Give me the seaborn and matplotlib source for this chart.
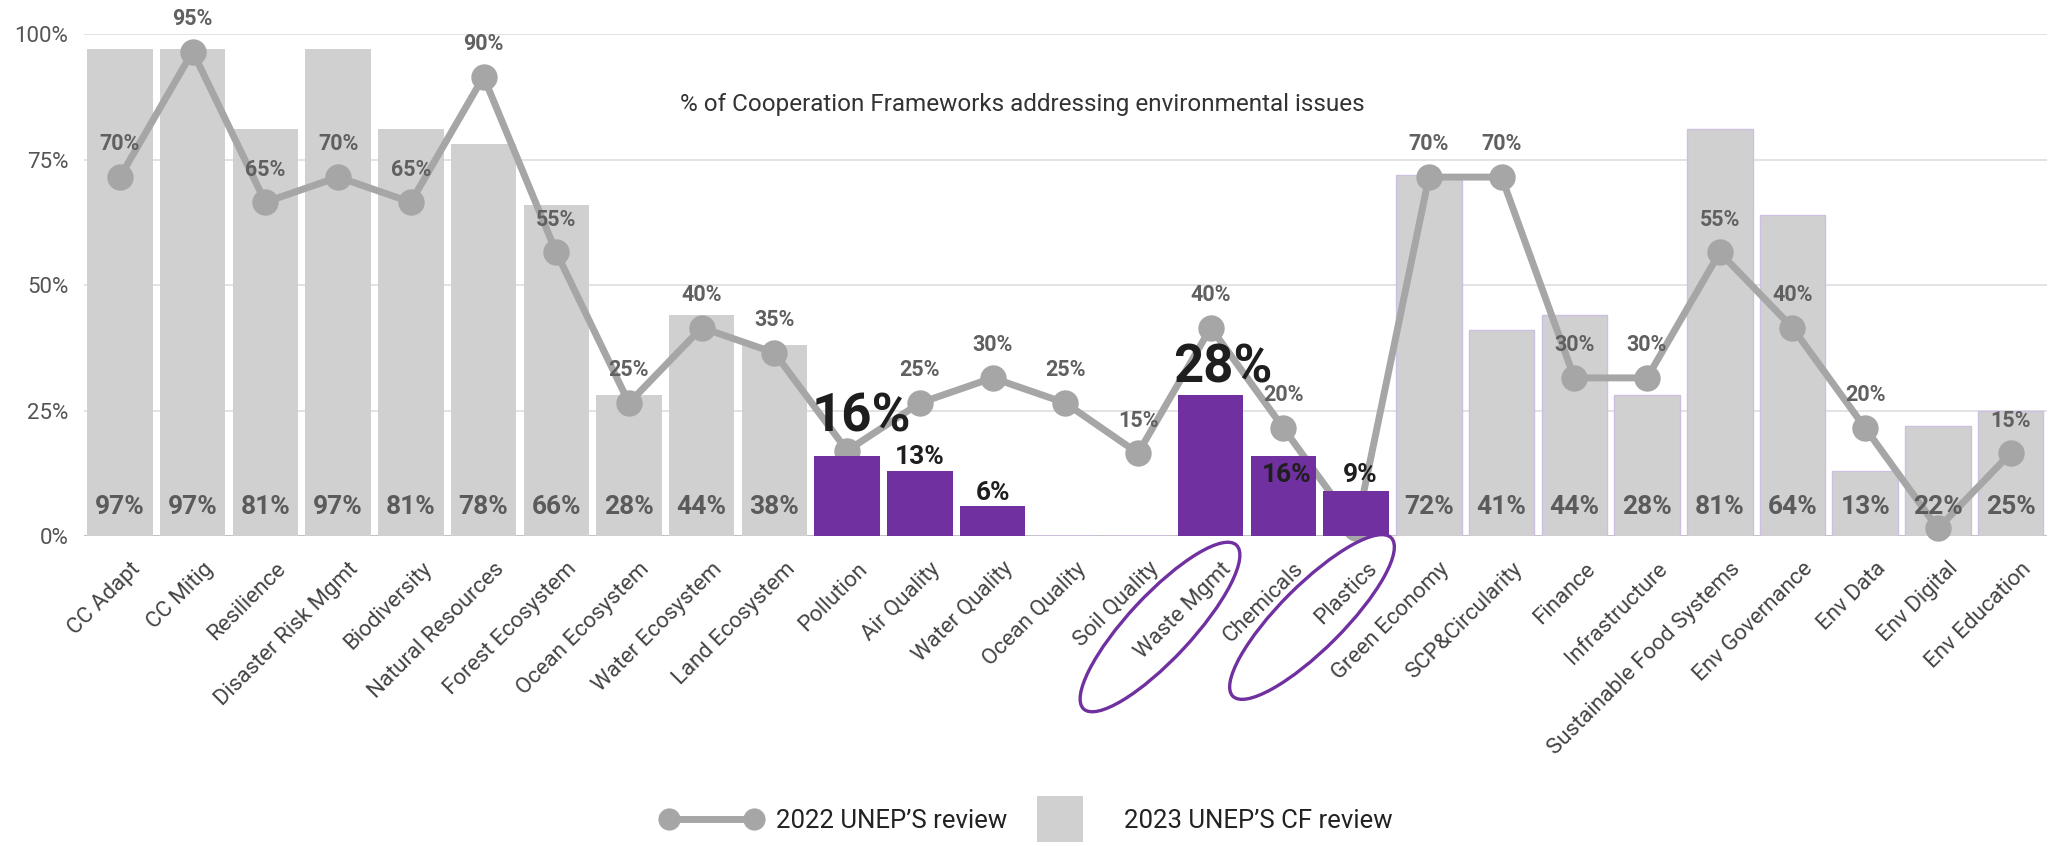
import matplotlib
matplotlib.use("Agg")
import matplotlib.pyplot as plt
import matplotlib.transforms as mtransforms
from matplotlib.patches import Ellipse
from matplotlib.lines import Line2D
from matplotlib.legend_handler import HandlerLine2D
import pandas as pd
import seaborn as sns

# ---------------- data ----------------
categories = [
    "CC Adapt", "CC Mitig", "Resilience", "Disaster Risk Mgmt", "Biodiversity",
    "Natural Resources", "Forest Ecosystem", "Ocean Ecosystem", "Water Ecosystem",
    "Land Ecosystem", "Pollution", "Air Quality", "Water Quality", "Ocean Quality",
    "Soil Quality", "Waste Mgmt", "Chemicals", "Plastics", "Green Economy",
    "SCP&Circularity", "Finance", "Infrastructure", "Sustainable Food Systems",
    "Env Governance", "Env Data", "Env Digital", "Env Education",
]
cf_review_2023 = [97, 97, 81, 97, 81, 78, 66, 28, 44, 38, 16, 13, 6, 0, 0, 28, 16, 9,
                  72, 41, 44, 28, 81, 64, 13, 22, 25]
# point positions as drawn in the picture
review_2022 = [71.5, 96.5, 66.5, 71.5, 66.5, 91.5, 56.5, 26.5, 41.5, 36.5, 17, 26.5,
               31.5, 26.5, 16.5, 41.5, 21.5, 1.5, 71.5, 71.5, 31.5, 31.5, 56.5, 41.5,
               21.5, 1.5, 16.5]
# printed labels of the 2022 series
review_2022_labels = ["70%", "95%", "65%", "70%", "65%", "90%", "55%", "25%", "40%",
                      "35%", "", "25%", "30%", "25%", "15%", "40%", "20%", "", "70%",
                      "70%", "30%", "30%", "55%", "40%", "20%", "", "15%"]
highlighted = ["Pollution", "Air Quality", "Water Quality", "Ocean Quality",
               "Soil Quality", "Waste Mgmt", "Chemicals", "Plastics"]
circled = ["Waste Mgmt", "Plastics"]
yticks = [0, 25, 50, 75, 100]
ytick_labels = ["0%", "25%", "50%", "75%", "100%"]
title = "% of Cooperation Frameworks addressing environmental issues"
legend_labels = ["2022 UNEP\u2019S review", "2023 UNEP\u2019S CF review"]

# ---------------- style ----------------
GREY_BAR = "#D0D0D0"
LINE = "#A6A6A6"
PURPLE = "#7030A0"
LAVENDER = "#CDBFE0"
LABEL_GREY = "#5B5B5B"
# label style for highlighted bars: (y shift, font size, x shift in category units)
hl_label_style = {
    "Pollution": (7.7, 38, 0.19),
    "Air Quality": (2.7, 19, 0.0),
    "Water Quality": (2.6, 19, 0.0),
    "Waste Mgmt": (5.5, 38, 0.16),
    "Chemicals": (-3.9, 19, 0.04),
    "Plastics": (3.1, 19, 0.05),
}

sns.set_theme(style="white")
plt.rcParams["font.family"] = ["Roboto", "DejaVu Sans"]

df = pd.DataFrame({"category": categories, "cf2023": cf_review_2023,
                   "r2022": review_2022})

fig = plt.figure(figsize=(20.54, 8.46), dpi=100)
ax = fig.add_axes([0.0407, 0.3664, 0.9559, 0.5934])

sns.barplot(data=df, x="category", y="cf2023", color=GREY_BAR, saturation=1,
            width=0.9, ax=ax, errorbar=None)

for p in ax.patches:
    i = int(round(p.get_x() + p.get_width() / 2))
    p.set_zorder(1)
    p.set_linewidth(0)
    if categories[i] in highlighted:
        p.set_facecolor(PURPLE)
        p.set_zorder(3)
        if cf_review_2023[i] == 0:
            p.set_edgecolor(LAVENDER)
            p.set_linewidth(1.2)
    elif i >= 18:
        p.set_edgecolor(LAVENDER)
        p.set_linewidth(1.0)

n_lines_before = len(ax.lines)
sns.pointplot(data=df, x="category", y="r2022", color=LINE, markers="o",
              linestyles="-", errorbar=None, ax=ax)
for ln in ax.lines[n_lines_before:]:
    ln.set_zorder(2)
    ln.set_linewidth(5)
    ln.set_markersize(19)
    ln.set_clip_on(False)
    ln.set_markeredgewidth(0)

# bar labels
for i, (cat, v) in enumerate(zip(categories, cf_review_2023)):
    if cat in highlighted:
        if cat in hl_label_style and v > 0:
            dy, fs, dx = hl_label_style[cat]
            ax.text(i + dx, v + dy, f"{v}%", ha="center", va="center",
                    fontsize=fs, fontweight="bold", color="#1E1E1E", zorder=5)
    else:
        ax.text(i, 5.8, f"{v}%", ha="center", va="center", fontsize=19,
                fontweight="bold", color=LABEL_GREY, zorder=5)

# line labels
for i, (v, lab) in enumerate(zip(review_2022, review_2022_labels)):
    if lab:
        ax.text(i, v + 6.5, lab, ha="center", va="center", fontsize=15.5,
                fontweight="bold", color="#606060", zorder=5, clip_on=False)

# axes styling
ax.set_xlim(-0.5, len(categories) - 0.5)
ax.set_ylim(0, 100)
ax.set_yticks(yticks)
ax.set_yticklabels(ytick_labels, fontsize=16, color="#555555")
ax.set_xlabel("")
ax.set_ylabel("")
for s in ax.spines.values():
    s.set_visible(False)
ax.yaxis.grid(True, color="#E3E3E3", linewidth=1.4)
ax.xaxis.grid(False)
ax.set_axisbelow(True)
ax.axhline(0, color="#BFBFBF", linewidth=2, zorder=0.8)
ax.tick_params(axis="y", length=0, pad=11)
ax.tick_params(axis="x", length=0, pad=16)

offset = mtransforms.ScaledTranslation(0.10, 0, fig.dpi_scale_trans)
for lab in ax.get_xticklabels():
    lab.set_rotation(45)
    lab.set_ha("right")
    lab.set_va("top")
    lab.set_rotation_mode("anchor")
    lab.set_fontsize(16)
    lab.set_color("#444444")
    lab.set_transform(lab.get_transform() + offset)

# title inside the chart
fig.text(0.4976, 0.876, title, ha="center", va="center", fontsize=17.5,
         color="#333333")

# circles around highlighted labels (in inches)
ellipse_specs = {"Waste Mgmt": (11.60, 2.19, 47), "Plastics": (13.12, 2.29, 45)}
for name in circled:
    cx, cy, ang = ellipse_specs[name]
    e = Ellipse((cx, cy), width=2.24, height=0.64, angle=ang, fill=False,
                edgecolor=PURPLE, linewidth=2.4, transform=fig.dpi_scale_trans)
    fig.add_artist(e)

# legend
line_handle = Line2D([0], [0], color=LINE, linewidth=5, marker="o", markersize=16,
                     markeredgewidth=0)
square_handle = Line2D([0], [0], color=GREY_BAR, linestyle="none", marker="s",
                       markersize=33, markeredgewidth=0)
fig.legend([line_handle, square_handle], legend_labels, loc="center",
           bbox_to_anchor=(0.5, 0.029), ncol=2, frameon=False, fontsize=18.5,
           handlelength=3.9, handletextpad=0.55, columnspacing=0.1,
           labelcolor="#222222",
           handler_map={line_handle: HandlerLine2D(numpoints=2),
                        square_handle: HandlerLine2D(numpoints=1)})

fig.savefig("out.png", dpi=100)
